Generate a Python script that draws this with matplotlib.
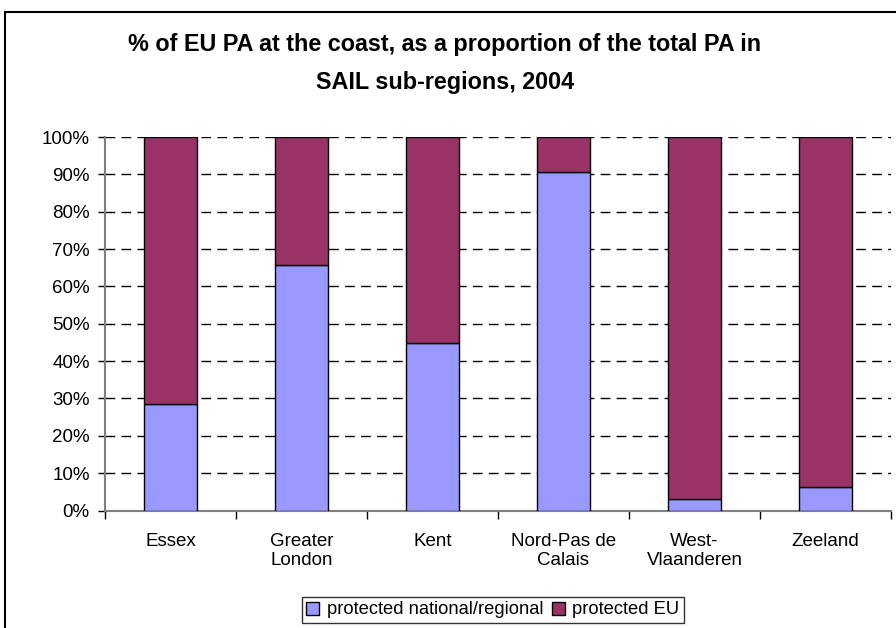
import matplotlib
matplotlib.use("Agg")
import matplotlib.pyplot as plt
from matplotlib.patches import Rectangle
import numpy as np

categories = ["Essex", "Greater\nLondon", "Kent", "Nord-Pas de\nCalais", "West-\nVlaanderen", "Zeeland"]
national_regional = [28.5, 65.6, 44.9, 90.5, 3.0, 6.4]
protected_eu = [100 - v for v in national_regional]
series_names = ["protected national/regional", "protected EU"]
yticks = list(range(0, 101, 10))
ytick_labels = [f"{v}%" for v in yticks]
title = "% of EU PA at the coast, as a proportion of the total PA in\nSAIL sub-regions, 2004"

plt.rcParams['font.family'] = ['Liberation Sans', 'DejaVu Sans']

W, H = 896, 628
fig = plt.figure(figsize=(W / 100, H / 100), dpi=100)
fig.patch.set_facecolor("white")

ax = fig.add_axes([105 / W, 1 - 510.5 / H, (891 - 105) / W, (510.5 - 137) / H])

x = np.arange(len(categories))
bw = 0.40
ax.bar(x, national_regional, bw, color="#9999FF", edgecolor="black", linewidth=1.0,
       label=series_names[0], zorder=3)
ax.bar(x, protected_eu, bw, bottom=national_regional, color="#993366", edgecolor="black",
       linewidth=1.0, label=series_names[1], zorder=3)

ax.set_xlim(-0.5, len(categories) - 0.5)
ax.set_ylim(0, 100)
ax.set_yticks(yticks)
ax.set_yticklabels(ytick_labels, fontsize=13.5)
for v in yticks[1:]:
    ax.axhline(v, color="black", linewidth=1.0, dashes=(7, 4.5), zorder=1)

ax.set_xticks(x)
ax.set_xticklabels(categories, fontsize=13.5, linespacing=1.2)
ax.tick_params(axis="x", length=0, pad=16)
ax.set_xticks(np.arange(-0.5, len(categories), 1.0), minor=True)
ax.tick_params(axis="x", which="minor", length=6, color="black", width=1.0, direction="out")
ax.tick_params(axis="y", length=5, color="black", width=1.0, direction="out", pad=6)

for s in ["top", "right"]:
    ax.spines[s].set_visible(False)
ax.spines["left"].set_color("#808080")
ax.spines["bottom"].set_color("#808080")
ax.spines["left"].set_linewidth(1.5)
ax.spines["bottom"].set_linewidth(1.5)

fig.text(445 / W, 1 - 63.5 / H, title, ha="center", va="center",
         fontsize=16.8, fontweight="bold", linespacing=1.78)

handles, labels = ax.get_legend_handles_labels()
leg = fig.legend(handles, labels, loc="center", bbox_to_anchor=(493 / W, 1 - 610 / H),
                 ncol=2, fontsize=13.2, frameon=True, fancybox=False, edgecolor="black",
                 handlelength=0.7, handleheight=0.7, handletextpad=0.4, columnspacing=0.5,
                 borderpad=0.25, borderaxespad=0)
leg.get_frame().set_linewidth(1.0)

fig.patches.append(Rectangle((5 / W, -0.2), 1.0, 1.2 - 12 / H, transform=fig.transFigure,
                             fill=False, edgecolor="black", linewidth=1.5))

fig.savefig("out.png", dpi=100)
